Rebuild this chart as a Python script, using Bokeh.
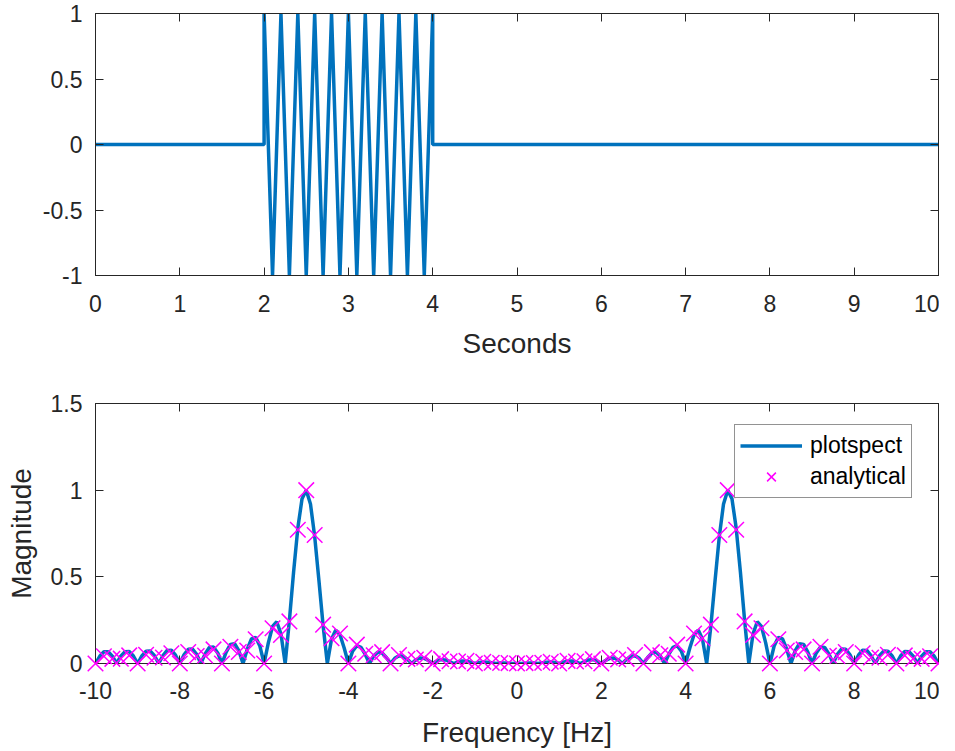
from bokeh.plotting import figure
from bokeh.models import Range1d, FixedTicker, LinearAxis, Legend, LegendItem
from bokeh.layouts import column
from bokeh.embed import file_html
from bokeh.resources import INLINE

# ---------------- data ----------------
# time signal: vertices of the sampled 5 Hz burst between 2 s and 4 s
t_signal = [0.0, 2.0, 2.0, 2.1, 2.2, 2.3, 2.4, 2.5, 2.6, 2.7, 2.8, 2.9, 3.0,
            3.1, 3.2, 3.3, 3.4, 3.5, 3.6, 3.7, 3.8, 3.9, 4.0, 4.0, 10.0]
y_signal = [0, 0, 1, -1, 1, -1, 1, -1, 1, -1, 1, -1, 1,
            -1, 1, -1, 1, -1, 1, -1, 1, -1, 1, 0, 0]

# plotspect curve (0.1 Hz grid)
freq_curve = [
    -10.0, -9.9, -9.8, -9.7, -9.6, -9.5, -9.4, -9.3, -9.2, -9.1,
    -9.0, -8.9, -8.8, -8.7, -8.6, -8.5, -8.4, -8.3, -8.2, -8.1,
    -8.0, -7.9, -7.8, -7.7, -7.6, -7.5, -7.4, -7.3, -7.2, -7.1,
    -7.0, -6.9, -6.8, -6.7, -6.6, -6.5, -6.4, -6.3, -6.2, -6.1,
    -6.0, -5.9, -5.8, -5.7, -5.6, -5.5, -5.4, -5.3, -5.2, -5.1,
    -5.0, -4.9, -4.8, -4.7, -4.6, -4.5, -4.4, -4.3, -4.2, -4.1,
    -4.0, -3.9, -3.8, -3.7, -3.6, -3.5, -3.4, -3.3, -3.2, -3.1,
    -3.0, -2.9, -2.8, -2.7, -2.6, -2.5, -2.4, -2.3, -2.2, -2.1,
    -2.0, -1.9, -1.8, -1.7, -1.6, -1.5, -1.4, -1.3, -1.2, -1.1,
    -1.0, -0.9, -0.8, -0.7, -0.6, -0.5, -0.4, -0.3, -0.2, -0.1,
    0.0, 0.1, 0.2, 0.3, 0.4, 0.5, 0.6, 0.7, 0.8, 0.9,
    1.0, 1.1, 1.2, 1.3, 1.4, 1.5, 1.6, 1.7, 1.8, 1.9,
    2.0, 2.1, 2.2, 2.3, 2.4, 2.5, 2.6, 2.7, 2.8, 2.9,
    3.0, 3.1, 3.2, 3.3, 3.4, 3.5, 3.6, 3.7, 3.8, 3.9,
    4.0, 4.1, 4.2, 4.3, 4.4, 4.5, 4.6, 4.7, 4.8, 4.9,
    5.0, 5.1, 5.2, 5.3, 5.4, 5.5, 5.6, 5.7, 5.8, 5.9,
    6.0, 6.1, 6.2, 6.3, 6.4, 6.5, 6.6, 6.7, 6.8, 6.9,
    7.0, 7.1, 7.2, 7.3, 7.4, 7.5, 7.6, 7.7, 7.8, 7.9,
    8.0, 8.1, 8.2, 8.3, 8.4, 8.5, 8.6, 8.7, 8.8, 8.9,
    9.0, 9.1, 9.2, 9.3, 9.4, 9.5, 9.6, 9.7, 9.8, 9.9,
    10.0]
mag_curve = [
    0.0, 0.0416, 0.0674, 0.0675, 0.0418, 0.0, 0.0421, 0.0685, 0.0689, 0.0429,
    0.0, 0.0435, 0.0711, 0.0718, 0.0448, 0.0, 0.0459, 0.0754, 0.0765, 0.0480,
    0.0, 0.0498, 0.0821, 0.0839, 0.0530, 0.0, 0.0557, 0.0927, 0.0955, 0.0609,
    0.0, 0.0654, 0.1100, 0.1148, 0.0743, 0.0, 0.0824, 0.1415, 0.1511, 0.1004,
    0.0, 0.1191, 0.2137, 0.2407, 0.1709, 0.0, 0.2487, 0.5286, 0.7811, 0.9502,
    1.0, 0.9208, 0.7335, 0.4810, 0.2193, 0.0, 0.1414, 0.1928, 0.1658, 0.0895,
    0.0, 0.0706, 0.1027, 0.0930, 0.0523, 0.0, 0.0439, 0.0655, 0.0605, 0.0346,
    0.0, 0.0298, 0.0449, 0.0418, 0.0241, 0.0, 0.0210, 0.0317, 0.0296, 0.0170,
    0.0, 0.0148, 0.0222, 0.0206, 0.0118, 0.0, 0.0100, 0.0149, 0.0136, 0.0076,
    0.0, 0.0061, 0.0087, 0.0076, 0.0040, 0.0, 0.0026, 0.0032, 0.0021, 0.0007,
    0.0, 0.0007, 0.0021, 0.0032, 0.0026, 0.0, 0.0040, 0.0076, 0.0087, 0.0061,
    0.0, 0.0076, 0.0136, 0.0149, 0.0100, 0.0, 0.0118, 0.0206, 0.0222, 0.0148,
    0.0, 0.0170, 0.0296, 0.0317, 0.0210, 0.0, 0.0241, 0.0418, 0.0449, 0.0298,
    0.0, 0.0346, 0.0605, 0.0655, 0.0439, 0.0, 0.0523, 0.0930, 0.1027, 0.0706,
    0.0, 0.0895, 0.1658, 0.1928, 0.1414, 0.0, 0.2193, 0.4810, 0.7335, 0.9208,
    1.0, 0.9502, 0.7811, 0.5286, 0.2487, 0.0, 0.1709, 0.2407, 0.2137, 0.1191,
    0.0, 0.1004, 0.1511, 0.1415, 0.0824, 0.0, 0.0743, 0.1148, 0.1100, 0.0654,
    0.0, 0.0609, 0.0955, 0.0927, 0.0557, 0.0, 0.0530, 0.0839, 0.0821, 0.0498,
    0.0, 0.0480, 0.0765, 0.0754, 0.0459, 0.0, 0.0448, 0.0718, 0.0711, 0.0435,
    0.0, 0.0429, 0.0689, 0.0685, 0.0421, 0.0, 0.0418, 0.0675, 0.0674, 0.0416,
    0.0]

# analytical markers (0.2 Hz grid)
freq_analytic = [
    -10.0, -9.8, -9.6, -9.4, -9.2, -9.0, -8.8, -8.6, -8.4, -8.2,
    -8.0, -7.8, -7.6, -7.4, -7.2, -7.0, -6.8, -6.6, -6.4, -6.2,
    -6.0, -5.8, -5.6, -5.4, -5.2, -5.0, -4.8, -4.6, -4.4, -4.2,
    -4.0, -3.8, -3.6, -3.4, -3.2, -3.0, -2.8, -2.6, -2.4, -2.2,
    -2.0, -1.8, -1.6, -1.4, -1.2, -1.0, -0.8, -0.6, -0.4, -0.2,
    0.0, 0.2, 0.4, 0.6, 0.8, 1.0, 1.2, 1.4, 1.6, 1.8,
    2.0, 2.2, 2.4, 2.6, 2.8, 3.0, 3.2, 3.4, 3.6, 3.8,
    4.0, 4.2, 4.4, 4.6, 4.8, 5.0, 5.2, 5.4, 5.6, 5.8,
    6.0, 6.2, 6.4, 6.6, 6.8, 7.0, 7.2, 7.4, 7.6, 7.8,
    8.0, 8.2, 8.4, 8.6, 8.8, 9.0, 9.2, 9.4, 9.6, 9.8,
    10.0]
mag_analytic = [
    0.0, 0.0418, 0.0267, 0.0278, 0.0467, 0.0, 0.0508, 0.0329, 0.0345, 0.0588,
    0.0, 0.0659, 0.0434, 0.0465, 0.0812, 0.0, 0.0969, 0.0665, 0.0750, 0.1397,
    0.0, 0.2032, 0.1647, 0.2429, 0.7717, 1.0, 0.7414, 0.2241, 0.1460, 0.1728,
    0.0, 0.1089, 0.0559, 0.0473, 0.0656, 0.0, 0.0494, 0.0267, 0.0233, 0.0330,
    0.0, 0.0250, 0.0133, 0.0114, 0.0154, 0.0, 0.0099, 0.0046, 0.0030, 0.0024,
    0.0, 0.0024, 0.0030, 0.0046, 0.0099, 0.0, 0.0154, 0.0114, 0.0133, 0.0250,
    0.0, 0.0330, 0.0233, 0.0267, 0.0494, 0.0, 0.0656, 0.0473, 0.0559, 0.1089,
    0.0, 0.1728, 0.1460, 0.2241, 0.7414, 1.0, 0.7717, 0.2429, 0.1647, 0.2032,
    0.0, 0.1397, 0.0750, 0.0665, 0.0812, 0.0, 0.0969, 0.0465, 0.0434, 0.0659,
    0.0, 0.0588, 0.0345, 0.0329, 0.0508, 0.0, 0.0467, 0.0278, 0.0267, 0.0418,
    0.0]

# ticks
top_xticks = [0, 1, 2, 3, 4, 5, 6, 7, 8, 9, 10]
top_xlabels = ["0", "1", "2", "3", "4", "5", "6", "7", "8", "9", "10"]
top_yticks = [-1, -0.5, 0, 0.5, 1]
top_ylabels = ["-1", "-0.5", "0", "0.5", "1"]
bot_xticks = [-10, -8, -6, -4, -2, 0, 2, 4, 6, 8, 10]
bot_xlabels = ["-10", "-8", "-6", "-4", "-2", "0", "2", "4", "6", "8", "10"]
bot_yticks = [0, 0.5, 1, 1.5]
bot_ylabels = ["0", "0.5", "1", "1.5"]

# ---------------- styling ----------------
FONT = "Liberation Sans"
AX = "#262626"
BLUE = "#0072BD"
MAGENTA = "#FF00FF"
TICK_FS = "23px"
LABEL_FS = "28px"


def style_axis(ax, ticks, labels, show_labels=True, tick_len=8):
    ax.ticker = FixedTicker(ticks=ticks)
    ax.major_tick_in = tick_len
    ax.major_tick_out = 0
    ax.minor_tick_line_color = None
    ax.axis_line_color = AX
    ax.axis_line_width = 1
    ax.major_tick_line_color = AX
    ax.major_tick_line_width = 1
    ax.major_label_text_font = FONT
    ax.axis_label_text_font = FONT
    ax.axis_label_text_font_size = LABEL_FS
    ax.axis_label_text_font_style = "normal"
    ax.axis_label_text_color = AX
    if show_labels:
        ax.major_label_text_color = AX
        ax.major_label_text_font_size = TICK_FS
        ax.major_label_overrides = {t: s for t, s in zip(ticks, labels)}
    else:
        ax.major_label_text_color = None
        ax.major_label_text_alpha = 0
        ax.major_label_text_font_size = "1px"
        ax.major_label_overrides = {t: "" for t in ticks}
        ax.major_label_standoff = 0


def make_fig(height, xr, yr, top, bottom):
    p = figure(width=939, height=height, x_range=xr, y_range=yr,
               output_backend="svg", toolbar_location=None,
               min_border_left=95, min_border_right=1,
               min_border_top=top, min_border_bottom=bottom)
    p.xgrid.visible = False
    p.ygrid.visible = False
    p.outline_line_color = AX
    p.outline_line_width = 1
    p.background_fill_color = "white"
    p.border_fill_color = "white"
    return p


# ---------------- top plot ----------------
p1 = make_fig(361, Range1d(0, 10), Range1d(-1, 1), 13, 84)
p1.line(t_signal, y_signal, line_color=BLUE, line_width=3.5)
style_axis(p1.xaxis[0], top_xticks, top_xlabels)
style_axis(p1.yaxis[0], top_yticks, top_ylabels)
p1.xaxis[0].axis_label = "Seconds"
p1.xaxis[0].major_label_standoff = 19
p1.xaxis[0].axis_label_standoff = 13
p1.yaxis[0].major_label_standoff = 13
ax_top1 = LinearAxis()
style_axis(ax_top1, top_xticks, top_xlabels, show_labels=False)
p1.add_layout(ax_top1, "above")
ax_right1 = LinearAxis()
style_axis(ax_right1, top_yticks, top_ylabels, show_labels=False)
p1.add_layout(ax_right1, "right")

# ---------------- bottom plot ----------------
p2 = make_fig(389, Range1d(-10, 10), Range1d(0, 1.5), 42, 85)
r_line = p2.line(freq_curve, mag_curve, line_color=BLUE, line_width=3.5)
r_x = p2.scatter(freq_analytic, mag_analytic, marker="x", size=22,
                 line_color=MAGENTA, line_width=1.5, level="overlay")
style_axis(p2.xaxis[0], bot_xticks, bot_xlabels)
style_axis(p2.yaxis[0], bot_yticks, bot_ylabels)
p2.xaxis[0].axis_label = "Frequency [Hz]"
p2.xaxis[0].major_label_standoff = 18
p2.xaxis[0].axis_label_standoff = 15
p2.yaxis[0].axis_label = "Magnitude"
p2.yaxis[0].major_label_standoff = 13
p2.yaxis[0].axis_label_standoff = 11
ax_top2 = LinearAxis()
style_axis(ax_top2, bot_xticks, bot_xlabels, show_labels=False)
p2.add_layout(ax_top2, "above")
ax_right2 = LinearAxis()
style_axis(ax_right2, bot_yticks, bot_ylabels, show_labels=False)
p2.add_layout(ax_right2, "right")

legend = Legend(items=[LegendItem(label="plotspect", renderers=[r_line]),
                       LegendItem(label="analytical", renderers=[r_x])],
                location=(639, 165))
legend.label_text_font = FONT
legend.label_text_font_size = TICK_FS
legend.label_text_color = "#000000"
legend.glyph_width = 62
legend.glyph_height = 31
legend.label_height = 31
legend.label_standoff = 8
legend.padding = 5
legend.spacing = 0
legend.margin = 0
legend.border_line_color = AX
legend.border_line_width = 1
legend.background_fill_color = "white"
legend.background_fill_alpha = 1.0
p2.add_layout(legend, "center")

layout = column(p1, p2)
open("out.html", "w").write(file_html(layout, INLINE))
